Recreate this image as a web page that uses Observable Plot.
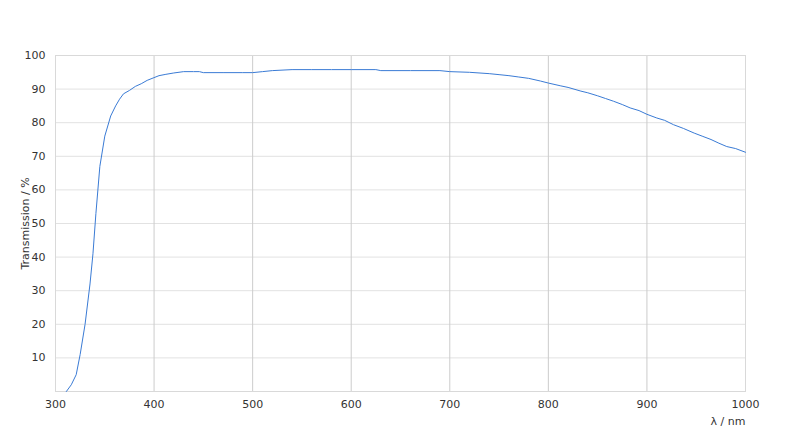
<!DOCTYPE html>
<html><head><meta charset="utf-8">
<script src="https://cdn.jsdelivr.net/npm/d3@7"></script>
<script src="https://cdn.jsdelivr.net/npm/@observablehq/plot@0.6"></script>
<style>body{margin:0;background:#fff;} svg{display:block;}</style>
</head><body><div id="chart"></div>
<script>
const wavelength = [311,316,321,325,330,335,338,341,345,350,356,361,365,369,375,381,387,393,399,405,412,420,430,440,446,450,470,490,500,510,520,540,560,580,600,625,630,660,690,700,720,740,750,760,770,780,792,800,812,820,833,840,850,858,866,875,883,892,900,910,918,927,937,948,956,965,973,981,990,1000];
const transmission = [0,2,5,11,20,32,41,53,67,76,82,85,87,88.6,89.6,90.8,91.6,92.6,93.3,94,94.4,94.8,95.2,95.2,95.2,94.9,94.9,94.9,94.9,95.2,95.5,95.8,95.8,95.8,95.8,95.8,95.5,95.5,95.5,95.2,95,94.6,94.3,94,93.6,93.2,92.4,91.8,91,90.5,89.4,88.9,88,87.2,86.4,85.4,84.4,83.6,82.5,81.4,80.7,79.4,78.3,76.9,76,75,73.9,72.9,72.3,71.2];
const xTicks = [300,400,500,600,700,800,900,1000];
const yTicks = [10,20,30,40,50,60,70,80,90,100];
const data = wavelength.map((w,i)=>({w, t: transmission[i]}));

const chart = Plot.plot({
  width: 800, height: 446,
  marginLeft: 55, marginRight: 55, marginTop: 55, marginBottom: 55,
  style: {fontFamily: "DejaVu Sans, sans-serif", fontSize: "11px", color: "#333", background: "#fff"},
  x: {domain: [300,1000]},
  y: {domain: [0,100]},
  marks: [
    Plot.gridY(yTicks, {stroke: "#e2e2e2", strokeOpacity: 1}),
    Plot.gridX(xTicks, {stroke: "#cccccc", strokeOpacity: 1}),
    Plot.frame({stroke: "#d9d9d9"}),
    Plot.axisY(yTicks, {tickSize: 0, tickPadding: 10, label: null, fill: "#333"}),
    Plot.axisX(xTicks, {tickSize: 0, tickPadding: 9, label: null, fill: "#333", tickFormat: d => String(d)}),
    Plot.text(["Transmission / %"], {frameAnchor: "left", dx: -30, rotate: -90, textAnchor: "middle", fill: "#333"}),
    Plot.text(["λ / nm"], {x: 1000, y: 0, dy: 30, textAnchor: "end", fill: "#333"}),
    Plot.line(data, {x: "w", y: "t", stroke: "#3a7bd5", strokeWidth: 1, curve: "linear"})
  ]
});
document.getElementById("chart").append(chart);
</script></body></html>
